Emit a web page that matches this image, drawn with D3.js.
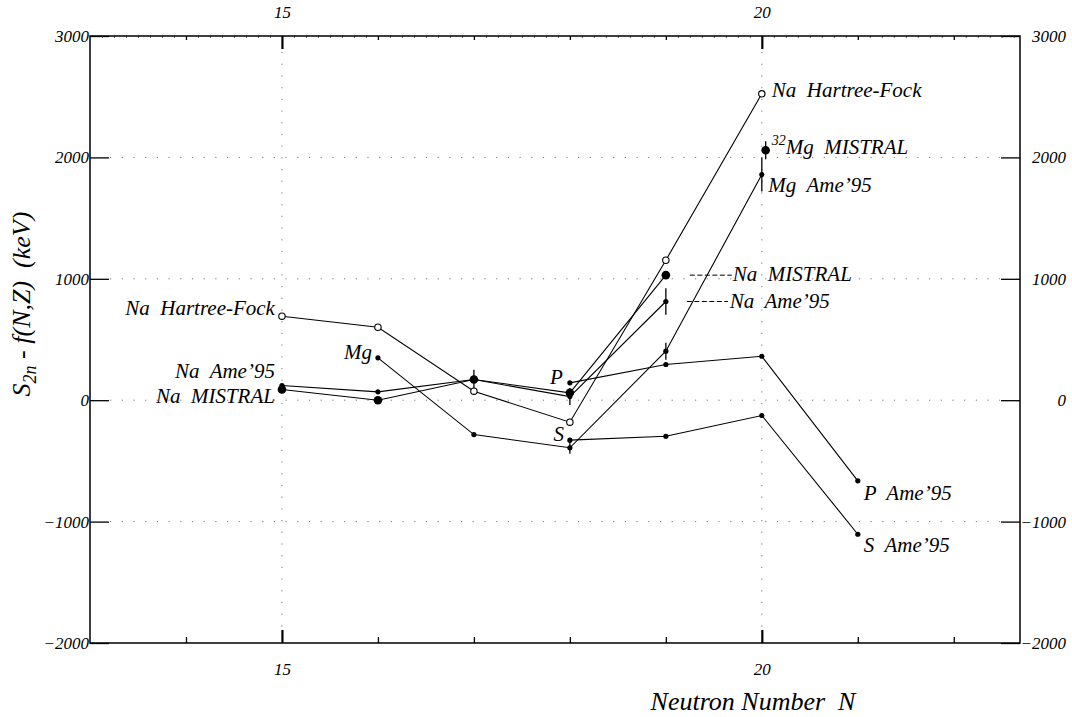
<!DOCTYPE html>
<html><head><meta charset="utf-8">
<script src="https://cdn.jsdelivr.net/npm/d3@7/dist/d3.min.js"></script>
<style>
body{margin:0;background:#fff}
</style>
</head><body>
<svg id="chart" width="1072" height="717" font-family="Liberation Serif" font-style="italic"></svg>
<script>
// ---- data (keV, relative to f(N,Z)) ----
const naHartreeFockN = [15,16,17,18,19,20];
const naHartreeFock  = [692,601,74,-181,1153,2524];

const naAmeN   = [15,16,17,18,19];
const naAme    = [121,69,170,30,813];
const naAmeErr = [0,0,80,70,110];

const naMistralN   = [15,16,17,18,19];
const naMistral    = [88,0,170,61,1030];
const naMistralErr = [0,0,0,0,0];

const mgAmeN   = [16,17,18,19,20];
const mgAme    = [349,-283,-392,404,1859];
const mgAmeErr = [0,0,50,70,140];

const mg32MistralN   = [20.04];
const mg32Mistral    = [2059];
const mg32MistralErr = [75];

const pAmeN = [18,19,20,21];
const pAme  = [143,294,362,-664];

const sAmeN = [18,19,20,21];
const sAme  = [-329,-297,-126,-1104];

const yTickValues = [-2000,-1000,0,1000,2000,3000];
const yGridValues = [-1000,0,1000,2000];
const xIntTicks   = [14,15,16,17,18,19,20,21,22];
const xMajorTicks = [15,20];

// ---- layout ----
const FONT = "Liberation Serif";
const svg = d3.select("#chart");
const L = 90, R = 1020, T = 36, B = 643;
const x = d3.scaleLinear().domain([13, 22.69]).range([L, R]);
const y = d3.scaleLinear().domain([-2000, 3000]).range([B, T]);

// grid
const grid = svg.append("g").attr("stroke","#777").attr("stroke-width",1).attr("stroke-dasharray","1.2,10.5");
grid.selectAll("line.h").data(yGridValues).enter().append("line")
  .attr("x1",L+20).attr("x2",R-20).attr("y1",d=>y(d)).attr("y2",d=>y(d));
grid.selectAll("line.v").data(xMajorTicks).enter().append("line")
  .attr("x1",d=>x(d)).attr("x2",d=>x(d)).attr("y1",T+16).attr("y2",B-14);

// axes
function clean(g){ g.select(".domain").remove(); g.attr("font-size",17).attr("font-family",FONT); }
const fmtMajor = d => xMajorTicks.includes(d) ? String(d) : "";

// left
const gl = svg.append("g").attr("transform",`translate(${L},0)`)
  .call(d3.axisLeft(y).tickValues(yTickValues).tickSize(-19).tickPadding(1).tickFormat(d3.format("d")));
clean(gl); gl.selectAll("line").attr("stroke-width",1.3);
// right
const gr = svg.append("g").attr("transform",`translate(${R},0)`)
  .call(d3.axisRight(y).tickValues(yTickValues).tickSize(-19).tickFormat(d3.format("d")));
clean(gr); gr.selectAll("line").attr("stroke-width",1.3);
gr.selectAll("text").attr("text-anchor","end").attr("x",46);
// top minor
const minorVals = d3.range(13.125, 22.69, 0.125).filter(v => Math.abs(v-Math.round(v))>1e-6);
const gtm = svg.append("g").attr("transform",`translate(0,${T})`)
  .call(d3.axisTop(x).tickValues(minorVals).tickSize(-1.8).tickFormat(""));
clean(gtm); gtm.selectAll("line").attr("stroke","#444");
// top integer
const gt = svg.append("g").attr("transform",`translate(0,${T})`)
  .call(d3.axisTop(x).tickValues(xIntTicks).tickSize(-4).tickPadding(18).tickFormat(fmtMajor));
clean(gt);
gt.selectAll(".tick line").attr("stroke-width",1.3);
gt.selectAll(".tick").filter(d=>xMajorTicks.includes(d)).select("line").attr("y2",13).attr("stroke-width",2.2);
gt.selectAll("text").attr("dy","0");
// bottom
const gb = svg.append("g").attr("transform",`translate(0,${B})`)
  .call(d3.axisBottom(x).tickValues(xIntTicks).tickSize(-6).tickPadding(32).tickFormat(fmtMajor));
clean(gb);
gb.selectAll(".tick line").attr("stroke-width",1.3);
gb.selectAll(".tick").filter(d=>xMajorTicks.includes(d)).select("line").attr("y2",-13).attr("stroke-width",2.2);
gb.selectAll("text").attr("dy","0").attr("y",32);

// frame
svg.append("rect").attr("x",L).attr("y",T).attr("width",R-L).attr("height",B-T)
  .attr("fill","none").attr("stroke","#000").attr("stroke-width",1.5);

// series
function pts(ns, vs, es){ return ns.map((n,i)=>({n, v:vs[i], e: es ? es[i] : 0})); }
const series = [
  {name:"Na Hartree-Fock", d:pts(naHartreeFockN, naHartreeFock), marker:"hollow"},
  {name:"Na Ame'95", d:pts(naAmeN, naAme, naAmeErr), marker:"small"},
  {name:"Na MISTRAL", d:pts(naMistralN, naMistral, naMistralErr), marker:"big"},
  {name:"Mg Ame'95", d:pts(mgAmeN, mgAme, mgAmeErr), marker:"small"},
  {name:"32Mg MISTRAL", d:pts(mg32MistralN, mg32Mistral, mg32MistralErr), marker:"big"},
  {name:"P Ame'95", d:pts(pAmeN, pAme), marker:"small"},
  {name:"S Ame'95", d:pts(sAmeN, sAme), marker:"small"}
];
const line = d3.line().x(p=>x(p.n)).y(p=>y(p.v));
const gs = svg.append("g");
series.forEach(s=>{
  if (s.d.length>1) gs.append("path").attr("d",line(s.d)).attr("fill","none").attr("stroke","#000").attr("stroke-width",1.1);
});
series.forEach(s=>{
  s.d.filter(p=>p.e>0).forEach(p=>{
    gs.append("line").attr("x1",x(p.n)).attr("x2",x(p.n)).attr("y1",y(p.v-p.e)).attr("y2",y(p.v+p.e))
      .attr("stroke","#000").attr("stroke-width",1.3);
  });
});
series.forEach(s=>{
  s.d.forEach(p=>{
    const c = gs.append("circle").attr("cx",x(p.n)).attr("cy",y(p.v));
    if (s.marker==="hollow") c.attr("r",3.2).attr("fill","#fff").attr("stroke","#000").attr("stroke-width",1.1);
    else if (s.marker==="big") c.attr("r",4.3).attr("fill","#000");
    else c.attr("r",2.6).attr("fill","#000");
  });
});

// annotations: anchored to a data point, offset in px
const FS = 21;
const notes = [
  {t:"Na  Hartree-Fock", n:20, v:2524, dx:10, dy:3, a:"start"},
  {t:"Na  Hartree-Fock", n:15, v:692, dx:-7, dy:-1, a:"end"},
  {t:"Mg", n:16, v:349, dx:-6, dy:1, a:"end"},
  {t:"Na  Ame’95", n:15, v:121, dx:-7, dy:-8, a:"end"},
  {t:"Na  MISTRAL", n:15, v:88, dx:-7, dy:13, a:"end"},
  {t:"P", n:18, v:143, dx:-7, dy:1, a:"end"},
  {t:"S", n:18, v:-329, dx:-6, dy:1, a:"end"},
  {t:"Na  MISTRAL", n:19, v:1030, dx:67, dy:6, a:"start", lead:[24,66]},
  {t:"Na  Ame’95", n:19, v:813, dx:64, dy:6, a:"start", lead:[21,62]},
  {t:"Mg  Ame’95", n:20, v:1859, dx:6.5, dy:17, a:"start"},
  {t:"P  Ame’95", n:21, v:-664, dx:6, dy:19, a:"start"},
  {t:"S  Ame’95", n:21, v:-1104, dx:6, dy:18, a:"start"}
];
const ga = svg.append("g").attr("font-family",FONT).attr("font-size",FS);
notes.forEach(o=>{
  const px = x(o.n), py = y(o.v);
  ga.append("text").attr("x",px+o.dx).attr("y",py+o.dy).attr("text-anchor",o.a)
    .attr("xml:space","preserve").text(o.t);
  if (o.lead) ga.append("line").attr("x1",px+o.lead[0]).attr("x2",px+o.lead[1]).attr("y1",py).attr("y2",py)
    .attr("stroke","#000").attr("stroke-width",1).attr("stroke-dasharray","5,2.5");
});
// 32Mg MISTRAL label with superscript
{
  const px = x(mg32MistralN[0]), py = y(mg32Mistral[0]);
  const t = ga.append("text").attr("x",px+6).attr("y",py+4).attr("xml:space","preserve");
  t.append("tspan").attr("font-size",14).attr("dy",-9).text("32");
  t.append("tspan").attr("dy",9).text("Mg  MISTRAL");
}

// axis titles
svg.append("text").attr("x",753).attr("y",710).attr("text-anchor","middle").attr("font-size",26)
  .attr("font-family",FONT).attr("xml:space","preserve").text("Neutron Number  N");
const yt = svg.append("text").attr("transform","translate(30,304) rotate(-90)").attr("text-anchor","middle")
  .attr("font-size",26).attr("font-family",FONT).attr("xml:space","preserve");
yt.append("tspan").text("S");
yt.append("tspan").attr("font-size",18).attr("dy",6).text("2n");
yt.append("tspan").attr("dy",-6).text(" - f(N,Z)  (keV)");
</script>
</body></html>
